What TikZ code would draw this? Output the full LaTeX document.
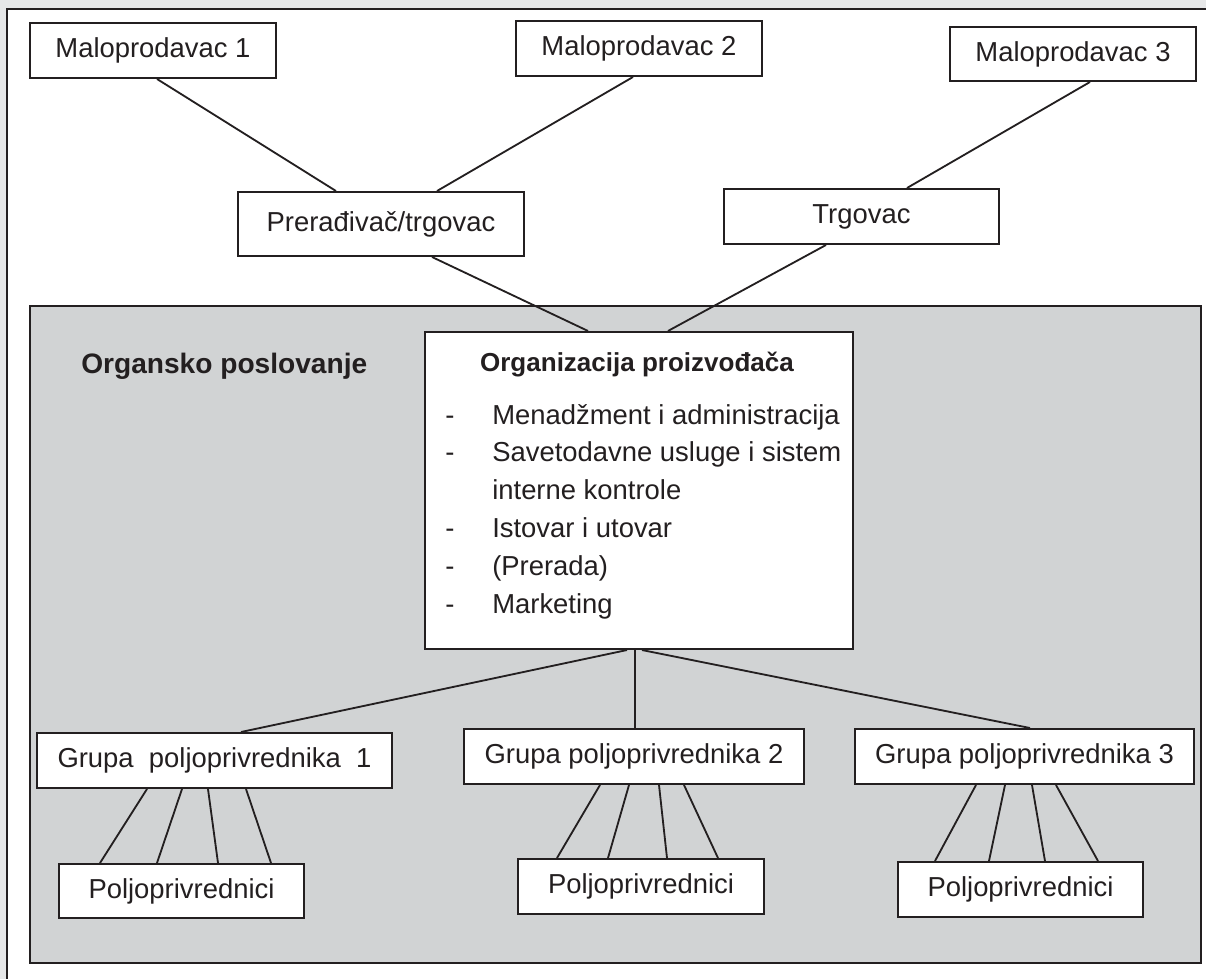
\documentclass[tikz,border=0pt]{standalone}
\usepackage{fontspec}
\setmainfont{Liberation Sans}
\usetikzlibrary{calc}
\definecolor{ink}{RGB}{35,31,32}
\definecolor{pagegray}{RGB}{230,231,232}
\definecolor{zonegray}{RGB}{209,211,212}

\begin{document}
\begin{tikzpicture}[x=0.025cm,y=-0.025cm,
    box/.style={draw=ink,line width=1.4pt,fill=white,inner sep=0pt,text=ink,
      font=\fontsize{19.5}{23}\selectfont},
    link/.style={draw=ink,line width=1.3pt}]
        \useasboundingbox (0,0) rectangle (1206,979);
        % page and shaded zone
        \fill[pagegray] (0,0) rectangle (1206,979);
        \fill[white] (7,9) rectangle (1206,979);
        \draw[ink,line width=1.4pt] (7,979) -- (7,9) -- (1206,9);
        \draw[ink,line width=1.4pt,fill=zonegray] (30,306) rectangle (1201,963);

        % top row
        \node[box,minimum width=6.15cm,minimum height=1.375cm] (m1) at (153,50.5) {Maloprodavac 1};
        \node[box,minimum width=6.15cm,minimum height=1.375cm] (m2) at (639,48.5) {Maloprodavac 2};
        \node[box,minimum width=6.15cm,minimum height=1.35cm] (m3) at (1073,54) {Maloprodavac 3};
        \node[box,minimum width=7.15cm,minimum height=1.6cm] (prer) at (381,224) {Prerađivač/trgovac};
        \node[box,minimum width=6.875cm,minimum height=1.375cm] (trg) at (861.5,216.5) {Trgovac};

        % producer organisation
        \node[box,minimum width=10.7cm,minimum height=7.925cm] (org) at (639,490.5) {};
        \node[anchor=base,text=ink,font=\fontsize{18.5}{22}\selectfont\bfseries] (orgtitle) at (637,371) {Organizacija proizvođača};
        \node[anchor=base west,inner sep=0pt,text=ink,font=\fontsize{19.5}{26.9}\selectfont] (orglist) at (445,424) {%
          \begin{tabular}[t]{@{}p{1.175cm}@{}l@{}}
            - & Menadžment i administracija\\
            - & Savetodavne usluge i sistem\\
              & interne kontrole\\
            - & Istovar i utovar\\
            - & (Prerada)\\
            - & Marketing
          \end{tabular}};
        \node[anchor=base west,inner sep=0pt,text=ink,font=\fontsize{20}{24}\selectfont\bfseries] (zone) at (81,373) {Organsko poslovanje};

        % farmer groups
        \node[box,minimum width=8.875cm,minimum height=1.375cm] (g1) at (214.5,760.5) {Grupa\ \ poljoprivrednika\ \ 1};
        \node[box,minimum width=8.5cm,minimum height=1.375cm] (g2) at (634,756.5) {Grupa poljoprivrednika 2};
        \node[box,minimum width=8.475cm,minimum height=1.375cm] (g3) at (1024.5,756.5) {Grupa poljoprivrednika 3};
        \node[box,minimum width=6.125cm,minimum height=1.35cm] (p1) at (181.5,891) {Poljoprivrednici};
        \node[box,minimum width=6.15cm,minimum height=1.375cm] (p2) at (641,886.5) {Poljoprivrednici};
        \node[box,minimum width=6.125cm,minimum height=1.375cm] (p3) at (1020.5,889.5) {Poljoprivrednici};

        % connectors
        \draw[link] (157,0 |- m1.south) -- (336,0 |- prer.north);
        \draw[link] (633,0 |- m2.south) -- (437,0 |- prer.north);
        \draw[link] (1090,0 |- m3.south) -- (907,0 |- trg.north);
        \draw[link] (432,0 |- prer.south) -- (588,0 |- org.north);
        \draw[link] (826,0 |- trg.south) -- (668,0 |- org.north);
        \draw[link] (627,0 |- org.south) -- (241,0 |- g1.north);
        \draw[link] (635,0 |- org.south) -- (635,0 |- g2.north);
        \draw[link] (642,0 |- org.south) -- (1030,0 |- g3.north);
        \foreach \a/\b in {147/100,182/157,208/218,246/271}
          \draw[link] (\a,0 |- g1.south) -- (\b,0 |- p1.north);
        \foreach \a/\b in {600/557,629/608,659/667,684/718}
          \draw[link] (\a,0 |- g2.south) -- (\b,0 |- p2.north);
        \foreach \a/\b in {976/935,1005/989,1032/1045,1056/1098}
          \draw[link] (\a,0 |- g3.south) -- (\b,0 |- p3.north);
      \end{tikzpicture}
\end{document}
